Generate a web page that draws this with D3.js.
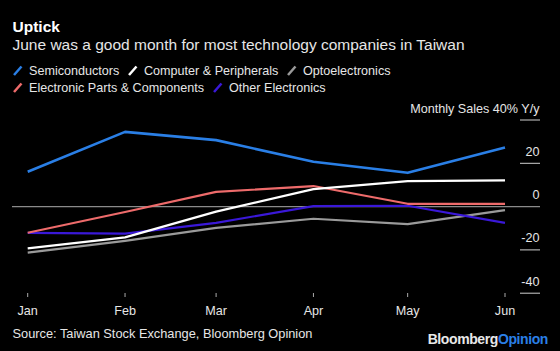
<!DOCTYPE html>
<html>
<head>
<meta charset="utf-8">
<script src="https://cdn.jsdelivr.net/npm/d3@7"></script>
<style>
  body { margin: 0; background: #000; }
  svg { display: block; font-family: "Liberation Sans", Arial, sans-serif; }
</style>
</head>
<body>
<div class="plot"></div>
<script>
// DATA
var months = ["2020-01-01", "2020-02-01", "2020-03-01", "2020-04-01", "2020-05-01", "2020-06-01"];
var monthLabels = ["Jan", "Feb", "Mar", "Apr", "May", "Jun"];
var seriesNames = ["Semiconductors", "Computer & Peripherals", "Optoelectronics", "Electronic Parts & Components", "Other Electronics"];
var semiconductors = [16.1, 34.5, 30.7, 20.7, 15.6, 27.3];
var computers = [-19.3, -14.2, -2.3, 8.1, 11.8, 12.1];
var opto = [-21.3, -15.8, -9.8, -5.6, -8.1, -1.6];
var parts = [-12.1, -2.5, 6.8, 9.5, 1.3, 1.3];
var other = [-12.1, -12.5, -7.5, 0.2, 0.4, -7.5];
var yTicks = [40, 20, 0, -20, -40];
var yTickLabels = ["Monthly Sales 40% Y/y", "20", "0", "-20", "-40"];

var colors = ["#2a7fe6", "#ffffff", "#9a9a9a", "#ee6b6b", "#3a18d8"];
var w = 560;
var h = 351;

var parseDate = d3.timeParse("%Y-%m-%d");
var dates = months.map(parseDate);
var allValues = [semiconductors, computers, opto, parts, other];

// draw order: gray, purple, red, white, blue on top
var drawOrder = [2, 4, 3, 1, 0];

var svg = d3.select(".plot").append("svg").attr("width", w).attr("height", h);
svg.append("rect").attr("width", w).attr("height", h).attr("fill", "#000");

// SCALES
var xScale = d3.scaleTime()
  .domain(d3.extent(dates))
  .range([27.7, 505]);

var yScale = d3.scaleLinear()
  .domain([-40, 40])
  .range([293.2, 120]);

// TITLES
svg.append("text")
  .attr("x", 12.5).attr("y", 31.5)
  .attr("fill", "#fff")
  .attr("font-size", "15.5px")
  .attr("font-weight", "bold")
  .text("Uptick");

svg.append("text")
  .attr("x", 12.5).attr("y", 49.5)
  .attr("fill", "#e6e6e6")
  .attr("font-size", "15.5px")
  .text("June was a good month for most technology companies in Taiwan");

// LEGEND
var legendPos = [[13, 75], [128, 75], [287, 75], [13, 92], [213, 92]];
var legend = svg.selectAll(".legend")
  .data(seriesNames)
  .enter()
  .append("g")
  .attr("class", "legend")
  .attr("transform", function (d, i) {
    return "translate(" + legendPos[i][0] + "," + legendPos[i][1] + ")";
  });

legend.append("line")
  .attr("x1", 1).attr("y1", 0)
  .attr("x2", 8.5).attr("y2", -8.5)
  .attr("stroke", function (d, i) { return colors[i]; })
  .attr("stroke-width", 2.5);

legend.append("text")
  .attr("x", 16).attr("y", 0)
  .attr("fill", "#e6e6e6")
  .attr("font-size", "12.6px")
  .text(function (d) { return d; });

// Y AXIS (right side)
var yAxis = svg.append("g").attr("class", "axis y");

yAxis.selectAll(".tickline")
  .data(yTicks.filter(function (d) { return d !== 0; }))
  .enter()
  .append("line")
  .attr("x1", 520).attr("x2", 540)
  .attr("y1", function (d) { return yScale(d); })
  .attr("y2", function (d) { return yScale(d); })
  .attr("stroke", "#cfcfcf")
  .attr("stroke-width", 1);

yAxis.append("line")
  .attr("x1", 12).attr("x2", 540)
  .attr("y1", yScale(0)).attr("y2", yScale(0))
  .attr("stroke", "#8a8a8a")
  .attr("stroke-width", 1.2);

yAxis.selectAll(".ticklabel")
  .data(yTicks)
  .enter()
  .append("text")
  .attr("x", 539.5)
  .attr("y", function (d) { return yScale(d) - 7.5; })
  .attr("text-anchor", "end")
  .attr("fill", "#e6e6e6")
  .attr("font-size", "12.6px")
  .text(function (d, i) { return yTickLabels[i]; });

// X AXIS
var xAxis = svg.append("g").attr("class", "axis x");

xAxis.selectAll(".xtick")
  .data(dates)
  .enter()
  .append("line")
  .attr("x1", function (d) { return xScale(d); })
  .attr("x2", function (d) { return xScale(d); })
  .attr("y1", 293).attr("y2", 297)
  .attr("stroke", "#aaa")
  .attr("stroke-width", 1);

xAxis.selectAll(".xlabel")
  .data(dates)
  .enter()
  .append("text")
  .attr("x", function (d) { return xScale(d); })
  .attr("y", 314.5)
  .attr("text-anchor", "middle")
  .attr("fill", "#e6e6e6")
  .attr("font-size", "12.6px")
  .text(function (d, i) { return monthLabels[i]; });

// LINES
var line = d3.line()
  .x(function (d, i) { return xScale(dates[i]); })
  .y(function (d) { return yScale(d); });

svg.selectAll(".series")
  .data(drawOrder)
  .enter()
  .append("path")
  .attr("class", "series")
  .attr("d", function (k) { return line(allValues[k]); })
  .attr("fill", "none")
  .attr("stroke", function (k) { return colors[k]; })
  .attr("stroke-width", function (k) { return k === 0 ? 2.6 : 2.2; })
  .attr("stroke-linejoin", "round");

// FOOTER
svg.append("text")
  .attr("x", 12.5).attr("y", 337.5)
  .attr("fill", "#e6e6e6")
  .attr("font-size", "12.8px")
  .text("Source: Taiwan Stock Exchange, Bloomberg Opinion");

var logo = svg.append("text")
  .attr("x", 548).attr("y", 344)
  .attr("text-anchor", "end")
  .attr("font-size", "14px")
  .attr("font-weight", "bold")
  .attr("letter-spacing", "-0.4px");
logo.append("tspan").attr("fill", "#e8e8e8").text("Bloomberg");
logo.append("tspan").attr("fill", "#2a7fe6").text("Opinion");
</script>
</body>
</html>
